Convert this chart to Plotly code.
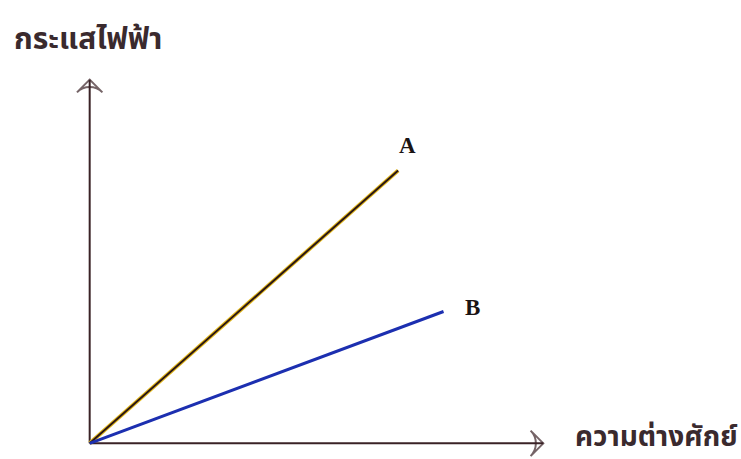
import plotly.graph_objects as go

# Current vs potential difference for two conductors (arbitrary units)
series_names = ["A", "B"]
voltage_a = [0, 6.8]
current_a = [0, 6.0]
voltage_b = [0, 7.8]
current_b = [0, 2.9]

x_axis_end = 10.0
y_axis_end = 8.0

x_title = "ความต่างศักย์"
y_title = "กระแสไฟฟ้า"

axis_color = "#3a2226"
thai_font = "Noto Sans Thai, Loma, Garuda, Tlwg Typo, sans-serif"

fig = go.Figure()

# Axes drawn as lines with open arrowheads
fig.add_trace(go.Scatter(
    x=[0, x_axis_end], y=[0, 0], mode="lines+markers",
    line=dict(color=axis_color, width=2),
    marker=dict(symbol="arrow-wide-open", size=[0, 18], angle=[0, 90],
                color=axis_color, line=dict(color=axis_color, width=2)),
    hoverinfo="skip", showlegend=False, cliponaxis=False))
fig.add_trace(go.Scatter(
    x=[0, 0], y=[0, y_axis_end], mode="lines+markers",
    line=dict(color=axis_color, width=2),
    marker=dict(symbol="arrow-wide-open", size=[0, 18], angle=[0, 0],
                color=axis_color, line=dict(color=axis_color, width=2)),
    hoverinfo="skip", showlegend=False, cliponaxis=False))

# Line A: dark stroke over a yellow fringe
fig.add_trace(go.Scatter(x=voltage_a, y=current_a, mode="lines",
                         line=dict(color="#e2b81c", width=4),
                         hoverinfo="skip", showlegend=False, cliponaxis=False))
fig.add_trace(go.Scatter(x=voltage_a, y=current_a, mode="lines",
                         line=dict(color="#2a1616", width=2),
                         name=series_names[0], showlegend=False, cliponaxis=False))
# Line B
fig.add_trace(go.Scatter(x=voltage_b, y=current_b, mode="lines",
                         line=dict(color="#1c2fb0", width=3),
                         name=series_names[1], showlegend=False, cliponaxis=False))

label_font = dict(family="Liberation Serif, Times New Roman, serif", size=23,
                  color="#1a1414", weight="bold")
fig.add_annotation(x=voltage_a[-1], y=current_a[-1], text=series_names[0],
                   showarrow=False, xshift=9, yshift=25, font=label_font)
fig.add_annotation(x=voltage_b[-1], y=current_b[-1], text=series_names[1],
                   showarrow=False, xshift=29, yshift=4, font=label_font)

fig.add_annotation(xref="paper", yref="y", x=1.0, y=0, text=x_title,
                   xanchor="left", yanchor="middle", xshift=7, yshift=6,
                   showarrow=False,
                   font=dict(family=thai_font, size=28, color="#3a2a2e", weight="bold"))
fig.add_annotation(xref="x", yref="paper", x=0, y=1.0, text=y_title,
                   xanchor="left", yanchor="middle", xshift=-78, yshift=26,
                   showarrow=False,
                   font=dict(family=thai_font, size=30, color="#3a2a2e", weight="bold"))

fig.update_xaxes(range=[-0.5, 10.5], visible=False)
fig.update_yaxes(range=[-0.3, 8.3], visible=False)
fig.update_layout(
    width=741, height=459,
    margin=dict(l=67.35, r=175.35, t=66.4, b=2.4),
    paper_bgcolor="white", plot_bgcolor="white",
)

fig.write_html("out.html")
